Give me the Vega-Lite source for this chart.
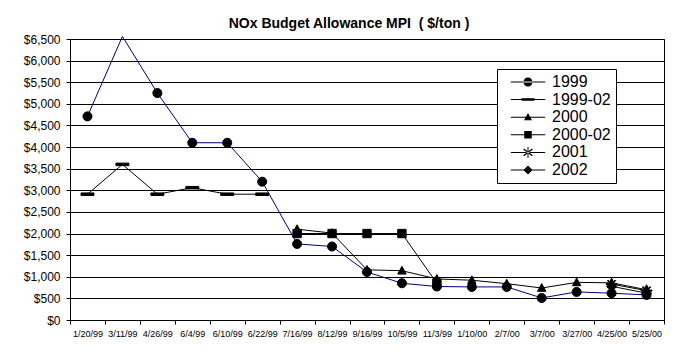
{
  "$schema": "https://vega.github.io/schema/vega-lite/v6.json",
  "autosize": "none",
  "padding": {"left": 70, "top": 39, "right": 29, "bottom": 31},
  "width": 594,
  "height": 281,
  "background": "white",
  "title": {
    "text": "NOx Budget Allowance MPI\u00a0\u00a0( $/ton )",
    "font": "Liberation Sans",
    "fontSize": 14,
    "fontWeight": "bold",
    "color": "black",
    "anchor": "middle",
    "frame": "group",
    "dx": -18,
    "baseline": "alphabetic",
    "offset": -10
  },
  "data": {
    "values": [
      {"date": "1/20/99", "series": "1999", "value": 4710},
      {"date": "3/11/99", "series": "1999", "value": 6560},
      {"date": "4/26/99", "series": "1999", "value": 5250},
      {"date": "6/4/99", "series": "1999", "value": 4100},
      {"date": "6/10/99", "series": "1999", "value": 4100},
      {"date": "6/22/99", "series": "1999", "value": 3200},
      {"date": "7/16/99", "series": "1999", "value": 1760},
      {"date": "8/12/99", "series": "1999", "value": 1700},
      {"date": "9/16/99", "series": "1999", "value": 1110},
      {"date": "10/5/99", "series": "1999", "value": 850},
      {"date": "11/3/99", "series": "1999", "value": 775},
      {"date": "1/10/00", "series": "1999", "value": 765},
      {"date": "2/7/00", "series": "1999", "value": 765},
      {"date": "3/7/00", "series": "1999", "value": 510},
      {"date": "3/27/00", "series": "1999", "value": 650},
      {"date": "4/25/00", "series": "1999", "value": 620},
      {"date": "5/25/00", "series": "1999", "value": 580},
      {"date": "1/20/99", "series": "1999-02", "value": 2910},
      {"date": "3/11/99", "series": "1999-02", "value": 3600},
      {"date": "4/26/99", "series": "1999-02", "value": 2910},
      {"date": "6/4/99", "series": "1999-02", "value": 3060},
      {"date": "6/10/99", "series": "1999-02", "value": 2910},
      {"date": "6/22/99", "series": "1999-02", "value": 2910},
      {"date": "7/16/99", "series": "2000", "value": 2100},
      {"date": "8/12/99", "series": "2000", "value": 2010},
      {"date": "9/16/99", "series": "2000", "value": 1160},
      {"date": "10/5/99", "series": "2000", "value": 1140},
      {"date": "11/3/99", "series": "2000", "value": 950},
      {"date": "1/10/00", "series": "2000", "value": 920},
      {"date": "2/7/00", "series": "2000", "value": 840},
      {"date": "3/7/00", "series": "2000", "value": 740},
      {"date": "3/27/00", "series": "2000", "value": 870},
      {"date": "4/25/00", "series": "2000", "value": 860},
      {"date": "5/25/00", "series": "2000", "value": 700},
      {"date": "7/16/99", "series": "2000-02", "value": 2000},
      {"date": "8/12/99", "series": "2000-02", "value": 2000},
      {"date": "9/16/99", "series": "2000-02", "value": 2000},
      {"date": "10/5/99", "series": "2000-02", "value": 2000},
      {"date": "11/3/99", "series": "2000-02", "value": 850},
      {"date": "4/25/00", "series": "2001", "value": 830},
      {"date": "5/25/00", "series": "2001", "value": 680},
      {"date": "4/25/00", "series": "2002", "value": 780},
      {"date": "5/25/00", "series": "2002", "value": 620}
    ]
  },
  "encoding": {
    "x": {
      "field": "date",
      "type": "nominal",
      "sort": ["1/20/99","3/11/99","4/26/99","6/4/99","6/10/99","6/22/99","7/16/99","8/12/99","9/16/99","10/5/99","11/3/99","1/10/00","2/7/00","3/7/00","3/27/00","4/25/00","5/25/00"],
      "scale": {"type": "band", "paddingInner": 0, "paddingOuter": 0},
      "bandPosition": 0.5,
      "axis": {
        "title": null,
        "labelAngle": 0,
        "labelFont": "Liberation Sans",
        "labelFontSize": 9,
        "labelColor": "black",
        "labelPadding": 5,
        "tickBand": "extent",
        "tickExtra": true,
        "tickSize": 4,
        "tickColor": "black",
        "domainColor": "black",
        "grid": false
      }
    },
    "y": {
      "field": "value",
      "type": "quantitative",
      "scale": {"domain": [0, 6500], "nice": false},
      "axis": {
        "title": null,
        "values": [0,500,1000,1500,2000,2500,3000,3500,4000,4500,5000,5500,6000,6500],
        "format": "$,.0f",
        "labelFont": "Liberation Sans",
        "labelFontSize": 12,
        "labelColor": "black",
        "labelPadding": 6,
        "tickSize": 4,
        "tickColor": "black",
        "domainColor": "black",
        "grid": true,
        "gridColor": "black",
        "gridOpacity": 1
      }
    }
  },
  "resolve": {"scale": {"shape": "independent"}, "legend": {"shape": "independent"}},
  "layer": [
    {
      "transform": [{"filter": "datum.series !== '1999'"}],
      "mark": {"type": "line", "strokeWidth": 1, "color": "black"},
      "encoding": {
        "detail": {"field": "series", "type": "nominal"}
      }
    },
    {
      "transform": [{"filter": "datum.series === '1999'"}],
      "mark": {"type": "line", "strokeWidth": 1, "color": "#000080"},
      "encoding": {}
    },
    {
      "transform": [{"filter": "datum.value <= 6500"}],
      "mark": {"type": "point", "fill": "black", "stroke": "black", "strokeWidth": 1, "opacity": 1, "size": 70},
      "encoding": {
        "shape": {
          "field": "series",
          "type": "nominal",
          "scale": {
            "domain": ["1999","1999-02","2000","2000-02","2001","2002"],
            "range": [
              "M-1.08,0A1.08,1.08 0 1,0 1.08,0A1.08,1.08 0 1,0 -1.08,0Z",
              "M-1.55,-0.3H1.55V0.3H-1.55Z",
              "M0,-1.05L1,0.8H-1Z",
              "M-1,-1H1V1H-1Z",
              "M-1.3,-0.12H1.3V0.12H-1.3Z M-0.12,-1.3H0.12V1.3H-0.12Z M-0.985,-0.815L0.815,0.985L0.985,0.815L-0.815,-0.985Z M-0.985,0.815L-0.815,0.985L0.985,-0.815L0.815,-0.985Z",
              "M0,-1.2L1.2,0L0,1.2L-1.2,0Z"
            ]
          },
          "legend": null
        }
      }
    },
    {
      "mark": {"type": "point", "filled": true, "fill": "black", "strokeWidth": 0, "opacity": 0, "size": 70},
      "encoding": {
        "shape": {
          "field": "series",
          "type": "nominal",
          "scale": {
            "domain": ["1999","1999-02","2000","2000-02","2001","2002"],
            "range": [
              "M-4.1,-0.12H4.1V0.12H-4.1Z M-1.08,0A1.08,1.08 0 1,0 1.08,0A1.08,1.08 0 1,0 -1.08,0Z",
              "M-4.1,-0.12H4.1V0.12H-4.1Z M-1.55,-0.3H1.55V0.3H-1.55Z",
              "M-4.1,-0.12H4.1V0.12H-4.1Z M0,-1L0.95,0.75H-0.95Z",
              "M-4.1,-0.12H4.1V0.12H-4.1Z M-0.9,-0.9H0.9V0.9H-0.9Z",
              "M-4.1,-0.12H4.1V0.12H-4.1Z M-0.12,-1.3H0.12V1.3H-0.12Z M-1.15,-0.7L0.95,0.95L1.15,0.7L-0.95,-0.95Z M-1.15,0.7L-0.95,0.95L1.15,-0.7L0.95,-0.95Z",
              "M-4.1,-0.12H4.1V0.12H-4.1Z M0,-1.1L1.1,0L0,1.1L-1.1,0Z"
            ]
          },
          "legend": {
            "orient": "none",
            "legendX": 427,
            "legendY": 30,
            "title": null,
            "fillColor": "white",
            "strokeColor": "black",
            "padding": 5,
            "labelFont": "Liberation Sans",
            "labelFontSize": 16,
            "labelColor": "black",
            "symbolSize": 70,
            "symbolOffset": 18,
            "labelOffset": 16,
            "rowPadding": 1.6,
            "symbolOpacity": 1,
            "symbolStrokeWidth": 0,
            "symbolFillColor": "black",
            "labelExpr": "datum.label + '\u00a0\u00a0\u00a0\u00a0\u00a0'"
          }
        }
      }
    }
  ],
  "config": {
    "font": "Liberation Sans",
    "view": {"stroke": "black", "strokeWidth": 1}
  }
}
